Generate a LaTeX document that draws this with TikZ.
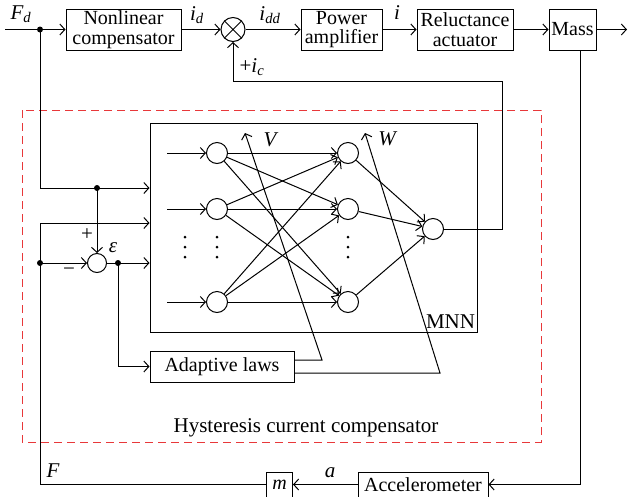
\documentclass[tikz,border=0pt]{standalone}
\usepackage{fontspec}
\setmainfont{Liberation Serif}
\usetikzlibrary{arrows.meta}
\definecolor{hcred}{RGB}{232,56,58}
\begin{document}
\begin{tikzpicture}[x=1pt,y=-1pt, line width=1pt,
  >={Straight Barb[length=5pt,width=11pt]},
  blk/.style={draw, inner sep=0pt, align=center, font=\fontsize{20}{19.5}\selectfont},
  neuron/.style={draw, circle, minimum size=21pt, inner sep=0pt},
  jdot/.style={circle, fill, minimum size=6pt, inner sep=0pt},
  sdot/.style={circle, fill, minimum size=3pt, inner sep=0pt},
  lbl/.style={font=\fontsize{21}{21}\selectfont, inner sep=0pt}
]
\useasboundingbox (0,0) rectangle (629,496);

% top row
\coordinate (in) at (5,29.5);
\node[blk, minimum width=115pt, minimum height=41pt] (nlc) at (123.5,29.5) {Nonlinear\\compensator};
\node[circle, draw, minimum size=24pt, inner sep=0pt] (sum) at (233,29.5) {};
\draw (sum.north west) -- (sum.south east) (sum.north east) -- (sum.south west);
\node[blk, minimum width=81pt, minimum height=41pt] (pa) at (341.5,29.5) {Power\\amplifier};
\node[blk, minimum width=96pt, minimum height=41pt] (ra) at (465,29.5) {Reluctance\\actuator};
\node[blk, minimum width=47pt, minimum height=41pt] (mass) at (572.5,29.5) {Mass};
\coordinate (out) at (627,29.5);

\draw[->] (in) -- (nlc.west);
\draw[->] (nlc) -- (sum);
\draw[->] (sum) -- (pa);
\draw[->] (pa) -- (ra);
\draw[->] (ra) -- (mass);
\draw[->] (mass) -- (out);

\node[lbl] (lFd) at (21,14) {\itshape F\textsubscript{d}};
\node[lbl] (lid) at (197,15) {\itshape i\textsubscript{d}};
\node[lbl] (lidd) at (270,15) {\itshape i\textsubscript{dd}};
\node[lbl] (li) at (397,13) {\itshape i};
\node[lbl] (lic) at (252,67) {+\itshape i\textsubscript{c}};

% hysteresis compensator frame
\draw[hcred, dash pattern=on 8pt off 5pt] (22,110) rectangle (541,442);
\node[lbl, anchor=base] (lhcc) at (306,432) {Hysteresis current compensator};

% MNN box
\node[draw, minimum width=327pt, minimum height=209pt, inner sep=0pt] (mnn) at (313.5,227.5) {};
\node[lbl, anchor=south east, inner xsep=2pt, inner ysep=4pt] (lmnn) at (mnn.south east) {MNN};

% neurons
\node[neuron] (i1) at (217,153) {};
\node[neuron] (i2) at (217,209) {};
\node[neuron] (i3) at (217,302) {};
\node[neuron] (h1) at (348,153) {};
\node[neuron] (h2) at (348,209) {};
\node[neuron] (h3) at (348,302) {};
\node[neuron] (o1) at (433,229) {};

\foreach \k/\yy in {1/153,2/209,3/302}{
  \coordinate (s\k) at (167,\yy);
  \draw[->] (s\k) -- (i\k);
}
\foreach \a in {1,2,3}{
  \foreach \b in {1,2,3}{
    \draw[->] (i\a) -- (h\b);
  }
  \draw[->] (h\a) -- (o1);
}
\foreach \xx in {185,217,348}{
  \foreach \yy in {237,247,257}{
    \node[sdot] at (\xx,\yy) {};
  }
}

% feedback current i_c
\coordinate (c2) at (502,81);
\draw[->] (o1.east) -| (c2) -| (sum.south);

% F_d branch and F branch
\node[jdot] (d1) at (40,29.5) {};
\coordinate (fdc) at (40,188);
\node[jdot] (d2) at (97,188) {};
\draw[->] (d1.center) -- (fdc) -- (fdc -| mnn.west);

\node[circle, draw, minimum size=19pt, inner sep=0pt] (eps) at (97,263) {};
\draw[->] (d2.center) -- (eps.north);
\node[lbl] (lplus) at (87,235) {+};
\node[lbl] (lminus) at (69,272) {−};
\node[lbl] (leps) at (113,248) {\itshape ε};

\node[jdot] (d3) at (40,263) {};
\node[jdot] (d4) at (118,263) {};
\draw[->] (d3.center) -- (eps.west);
\draw[->] (eps.east) -- (eps.east -| mnn.west);

% adaptive laws
\node[blk, minimum width=144pt, minimum height=31pt] (al) at (222,366.5) {Adaptive laws};
\draw[->] (d4.center) |- (al.west);
\coordinate (vb) at (322,360);
\coordinate (vt) at (245,133);
\coordinate (wb) at (440,373);
\coordinate (wt) at (365,133);
\draw[->] ([yshift=6.5pt]al.east) -- (vb) -- (vt);
\draw[->] ([yshift=-6.5pt]al.east) -- (wb) -- (wt);
\node[lbl] (lV) at (270,140) {\itshape V};
\node[lbl] (lW) at (387,139) {\itshape W};

% measurement loop
\node[blk, minimum width=130pt, minimum height=25pt] (acc) at (423,484.5) {Accelerometer};
\node[blk, minimum width=26pt, minimum height=25pt] (mb) at (279.5,484.5) {\itshape m};
\coordinate (mo) at (580,50);
\draw[->] (mo) |- (acc.east);
\draw[->] (acc.west) -- (mb.east);
\node[lbl] (la) at (330,473) {\itshape a};
\coordinate (fc) at (40,223);
\draw[->] (mb.west) -| (fc) -- (fc -| mnn.west);
\node[lbl] (lF) at (53,471) {\itshape F};
\end{tikzpicture}
\end{document}
